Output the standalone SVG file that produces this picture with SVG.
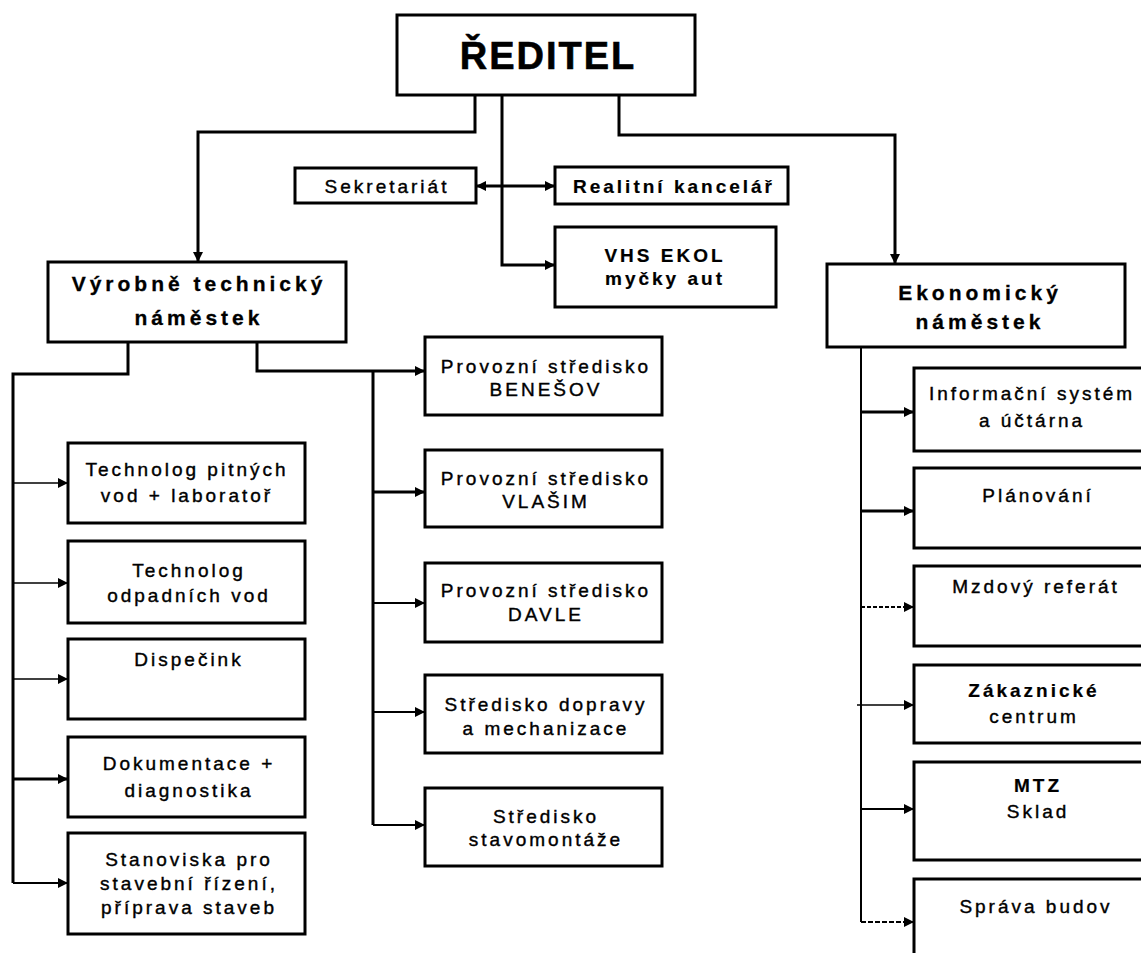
<svg xmlns="http://www.w3.org/2000/svg" width="1141" height="953" viewBox="0 0 1141 953">
<style>
.box{fill:#fff;stroke:#000;stroke-width:3}
.c{fill:none;stroke:#000;stroke-width:3}
.c2{fill:none;stroke:#000;stroke-width:2}
.c1{fill:none;stroke:#000;stroke-width:1.3}
.t{font-family:"Liberation Sans",Arial,sans-serif;font-size:19px;letter-spacing:3px;text-anchor:middle;fill:#000;stroke:#000;stroke-width:0.4}
.b{font-weight:bold;stroke-width:0.2}
.h{font-family:"Liberation Sans",Arial,sans-serif;font-size:21px;letter-spacing:4px;font-weight:bold;text-anchor:middle;fill:#000;stroke:#000;stroke-width:0.3}
</style>
<defs>
<marker id="a" viewBox="0 0 10 10" refX="10" refY="5" markerWidth="10" markerHeight="11" markerUnits="userSpaceOnUse" orient="auto-start-reverse">
<path d="M0,0 L10,5 L0,10 z" fill="#000"/>
</marker>
</defs>
<g id="connectors">
<polyline class="c" points="475,95 475,132 198,132 198,262" marker-end="url(#a)"/>
<polyline class="c" points="502,95 502,265 555,265" marker-end="url(#a)"/>
<polyline class="c" points="619,95 619,135 895,135 895,264" marker-end="url(#a)"/>
<line class="c" x1="476" y1="186" x2="555" y2="186" marker-start="url(#a)" marker-end="url(#a)"/>
<polyline class="c" points="128,342 128,374 13,374 13,883"/>
<line class="c1" x1="13" y1="483" x2="68" y2="483" marker-end="url(#a)"/>
<line class="c1" x1="13" y1="583" x2="68" y2="583" marker-end="url(#a)"/>
<line class="c1" x1="13" y1="679" x2="68" y2="679" marker-end="url(#a)"/>
<line class="c" x1="13" y1="779" x2="68" y2="779" marker-end="url(#a)"/>
<line class="c2" x1="13" y1="883" x2="68" y2="883" marker-end="url(#a)"/>
<polyline class="c" points="257,342 257,371 425,371" marker-end="url(#a)"/>
<line class="c" x1="373" y1="371" x2="373" y2="825"/>
<line class="c" x1="373" y1="492" x2="425" y2="492" marker-end="url(#a)"/>
<line class="c2" x1="373" y1="603" x2="425" y2="603" marker-end="url(#a)"/>
<line class="c2" x1="373" y1="712" x2="425" y2="712" marker-end="url(#a)"/>
<line class="c2" x1="373" y1="825" x2="425" y2="825" marker-end="url(#a)"/>
<line class="c2" x1="861" y1="347" x2="861" y2="922"/>
<line class="c" x1="861" y1="412" x2="914" y2="412" marker-end="url(#a)"/>
<line class="c" x1="861" y1="511" x2="914" y2="511" marker-end="url(#a)"/>
<line class="c2" x1="861" y1="607" x2="914" y2="607" stroke-dasharray="4,2" marker-end="url(#a)"/>
<line class="c1" x1="857" y1="705" x2="914" y2="705" marker-end="url(#a)"/>
<line class="c2" x1="861" y1="809" x2="914" y2="809" marker-end="url(#a)"/>
<line class="c2" x1="861" y1="922" x2="914" y2="922" stroke-dasharray="5,2" marker-end="url(#a)"/>
</g>
<g id="reditel">
<rect class="box" x="397" y="15" width="298" height="80" stroke-width="4"/>
<text x="548" y="69" font-family="Liberation Sans, Arial, sans-serif" font-size="38" font-weight="bold" letter-spacing="2" text-anchor="middle" stroke="#000" stroke-width="0.6">ŘEDITEL</text>
</g>
<g id="sekretariat">
<rect class="box" x="295" y="168" width="181" height="35"/>
<text class="t" x="387" y="193">Sekretariát</text>
</g>
<g id="realitni">
<rect class="box" x="555" y="167" width="233" height="37"/>
<text class="t b" x="674" y="193">Realitní kancelář</text>
</g>
<g id="vhs">
<rect class="box" x="555" y="227" width="221" height="80"/>
<text class="t b" x="665" y="262" font-size="20" letter-spacing="1.5">VHS EKOL</text>
<text class="t b" x="665" y="285" font-size="20" letter-spacing="1.5">myčky aut</text>
</g>
<g id="vyrobne">
<rect class="box" x="48" y="262" width="298" height="80"/>
<text class="h" x="199" y="291">Výrobně technický</text>
<text class="h" x="199" y="325">náměstek</text>
</g>
<g id="ekonomicky">
<rect class="box" x="827" y="264" width="298" height="83"/>
<text class="h" x="980" y="300">Ekonomický</text>
<text class="h" x="980" y="329">náměstek</text>
</g>
<g id="tech-pitne">
<rect class="box" x="68" y="443" width="237" height="80"/>
<text class="t" x="187" y="476">Technolog pitných</text>
<text class="t" x="187" y="502">vod + laboratoř</text>
</g>
<g id="tech-odpadni">
<rect class="box" x="68" y="541" width="237" height="82"/>
<text class="t" x="189" y="577">Technolog</text>
<text class="t" x="189" y="602">odpadních vod</text>
</g>
<g id="dispecink">
<rect class="box" x="68" y="639" width="237" height="80"/>
<text class="t" x="189" y="666">Dispečink</text>
</g>
<g id="dokumentace">
<rect class="box" x="68" y="737" width="237" height="80"/>
<text class="t" x="189" y="770">Dokumentace +</text>
<text class="t" x="189" y="797">diagnostika</text>
</g>
<g id="stanoviska">
<rect class="box" x="68" y="833" width="237" height="101"/>
<text class="t" x="189" y="866">Stanoviska pro</text>
<text class="t" x="189" y="890">stavební řízení,</text>
<text class="t" x="189" y="914">příprava staveb</text>
</g>
<g id="benesov">
<rect class="box" x="425" y="337" width="237" height="78"/>
<text class="t" x="546" y="373">Provozní středisko</text>
<text class="t" x="546" y="396">BENEŠOV</text>
</g>
<g id="vlasim">
<rect class="box" x="425" y="450" width="237" height="77"/>
<text class="t" x="546" y="485">Provozní středisko</text>
<text class="t" x="546" y="508">VLAŠIM</text>
</g>
<g id="davle">
<rect class="box" x="425" y="563" width="237" height="79"/>
<text class="t" x="546" y="597">Provozní středisko</text>
<text class="t" x="546" y="621">DAVLE</text>
</g>
<g id="doprava">
<rect class="box" x="425" y="675" width="237" height="78"/>
<text class="t" x="546" y="711">Středisko dopravy</text>
<text class="t" x="546" y="735">a mechanizace</text>
</g>
<g id="stavomontaze">
<rect class="box" x="425" y="788" width="237" height="78"/>
<text class="t" x="546" y="823">Středisko</text>
<text class="t" x="546" y="846">stavomontáže</text>
</g>
<g id="informacni">
<rect class="box" x="914" y="368" width="236" height="83"/>
<text class="t" x="1032" y="400">Informační systém</text>
<text class="t" x="1032" y="427">a účtárna</text>
</g>
<g id="planovani">
<rect class="box" x="914" y="468" width="236" height="80"/>
<text class="t" x="1038" y="502">Plánování</text>
</g>
<g id="mzdovy">
<rect class="box" x="914" y="566" width="236" height="80"/>
<text class="t" x="1036" y="593">Mzdový referát</text>
</g>
<g id="zakaznicke">
<rect class="box" x="914" y="665" width="236" height="78"/>
<text class="t b" x="1034" y="697">Zákaznické</text>
<text class="t" x="1034" y="723">centrum</text>
</g>
<g id="mtz">
<rect class="box" x="914" y="762" width="236" height="98"/>
<text class="t b" x="1038" y="792">MTZ</text>
<text class="t" x="1038" y="818">Sklad</text>
</g>
<g id="sprava">
<rect class="box" x="914" y="879" width="236" height="90"/>
<text class="t" x="1036" y="913">Správa budov</text>
</g>
</svg>
